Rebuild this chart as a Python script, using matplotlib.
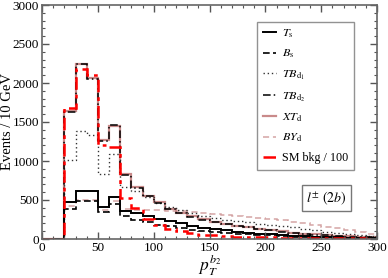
import numpy as np
import matplotlib
matplotlib.use("Agg")
import matplotlib.pyplot as plt
from matplotlib.ticker import MultipleLocator

plt.rcParams['font.family'] = ['Liberation Serif', 'DejaVu Serif']
plt.rcParams['mathtext.fontset'] = 'stix'

edges = np.arange(0, 310, 10)

T_s = [0, 0, 470, 610, 610, 405, 535, 355, 334, 291, 257, 227, 205, 171, 145, 125,
       110, 95, 80, 68, 58, 50, 42, 36, 30, 25, 21, 18, 15, 12]
B_s = [0, 0, 380, 485, 485, 340, 450, 300, 250, 215, 185, 162, 140, 120, 105, 92,
       80, 70, 60, 52, 45, 38, 32, 27, 23, 20, 17, 14, 12, 10]
TB_d1 = [0, 0, 1019, 1383, 1327, 839, 1096, 665, 612, 535, 465, 410, 370, 330, 295, 265,
         245, 228, 212, 198, 184, 165, 148, 130, 112, 95, 80, 65, 52, 40]
TB_d2 = [0, 0, 1627, 2249, 2056, 1260, 1456, 826, 660, 545, 462, 380, 330, 285, 250, 220,
         192, 168, 148, 128, 110, 95, 80, 68, 57, 47, 39, 32, 26, 21]
XT_d = [0, 0, 1640, 2240, 2065, 1270, 1450, 830, 665, 550, 468, 385, 335, 290, 255, 223,
        195, 170, 150, 130, 112, 97, 82, 70, 58, 48, 40, 33, 27, 22]
BY_d = [0, 0, 420, 495, 495, 370, 490, 380, 372, 370, 368, 362, 355, 345, 335, 320,
        305, 292, 280, 268, 255, 240, 222, 200, 180, 158, 135, 112, 88, 62]
SM_bkg = [0, 0, 1683, 2184, 2098, 1200, 1180, 527, 400, 260, 175, 130, 100, 72, 56, 45,
          38, 32, 27, 23, 20, 17, 15, 13, 11, 10, 9, 8, 7, 6]

labels = [r'$T_{\rm s}$', r'$B_{\rm s}$', r'$TB_{{\rm d}_1}$', r'$TB_{{\rm d}_2}$',
          r'$XT_{\rm d}$', r'$BY_{\rm d}$', 'SM bkg / 100']

fig = plt.figure(figsize=(3.88, 2.78), dpi=100)
ax = fig.add_axes([42/388, 1-239/278, 335/388, 234/278])

ax.stairs(BY_d, edges, baseline=0, color='#d4a4a4', lw=1.1, ls=(0, (4, 2.5)), label=labels[5])
ax.stairs(XT_d, edges, baseline=0, color='#c98a8a', lw=1.6, ls='-', label=labels[4])
ax.stairs(TB_d1, edges, baseline=0, color='#333333', lw=1.0, ls=(0, (1, 2)), label=labels[2])
ax.stairs(TB_d2, edges, baseline=0, color='black', lw=1.1, ls=(0, (5, 2, 1, 2)), label=labels[3])
ax.stairs(B_s, edges, baseline=0, color='black', lw=1.2, ls=(0, (4, 2)), label=labels[1])
ax.stairs(T_s, edges, baseline=0, color='black', lw=1.4, ls='-', label=labels[0])
ax.stairs(SM_bkg, edges, baseline=0, color='#ff0000', lw=1.8, ls=(0, (5, 2, 1.5, 2)), label=labels[6])

ax.set_xlim(0, 300)
ax.set_ylim(0, 3000)
ax.xaxis.set_major_locator(MultipleLocator(50))
ax.xaxis.set_minor_locator(MultipleLocator(10))
ax.yaxis.set_major_locator(MultipleLocator(500))
ax.yaxis.set_minor_locator(MultipleLocator(100))
ax.tick_params(which='both', direction='in', top=True, right=True, colors='#555555',
               labelcolor='black', labelsize=9.5, pad=2)
ax.tick_params(which='major', length=5, width=1)
ax.tick_params(which='minor', length=2.5, width=0.8)
for s in ax.spines.values():
    s.set_color('#666666')
    s.set_linewidth(1.2)

ax.set_ylabel('Events / 10 GeV', fontsize=10.5)
ax.yaxis.set_label_coords(-0.104, 0.5)
ax.yaxis.label.set_va('center')
ax.set_xlabel(r'$p_T^{b_2}$', fontsize=12.5, labelpad=-1)

h, l = ax.get_legend_handles_labels()
order = [l.index(x) for x in labels]
leg = ax.legend([h[i] for i in order], [l[i] for i in order],
                loc='upper left', bbox_to_anchor=(0.642, 0.927), fontsize=8.7,
                handlelength=1.15, handletextpad=0.5, labelspacing=0.66,
                fancybox=False, frameon=True, borderpad=0.45, borderaxespad=0)
leg.get_frame().set_edgecolor('#777777')
leg.get_frame().set_linewidth(1.0)

ax.text(0.849, 0.175, r'$l^{\pm}\ (2b)$', transform=ax.transAxes, fontsize=10,
        ha='center', va='center',
        bbox=dict(boxstyle='square,pad=0.3', fc='white', ec='#777777', lw=1.0))

fig.savefig('out.png', dpi=100)
